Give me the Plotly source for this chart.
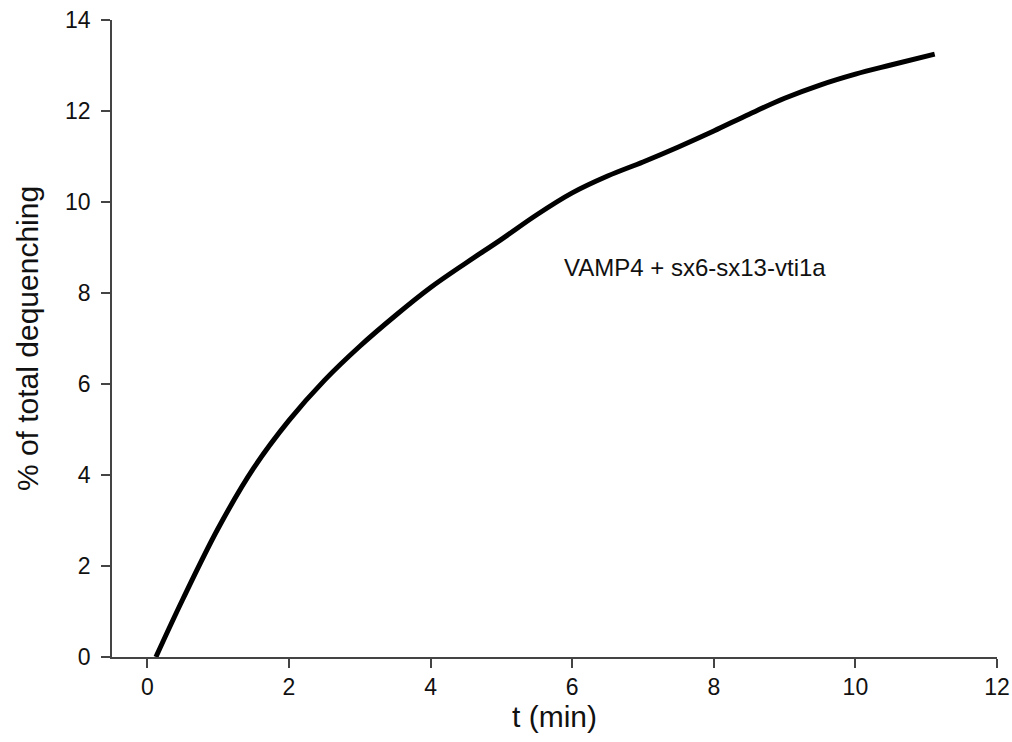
import plotly.graph_objects as go

t_min = [0.12, 0.5, 1.0, 1.5, 2.0, 2.5, 3.0, 3.5, 4.0, 4.5, 5.0, 5.5, 6.0, 6.5, 7.0,
         7.5, 8.0, 8.5, 9.0, 9.5, 10.0, 10.5, 11.12]
dequench = [0.0, 1.27, 2.83, 4.15, 5.20, 6.08, 6.83, 7.50, 8.12, 8.66, 9.18, 9.72, 10.20,
            10.57, 10.88, 11.21, 11.56, 11.93, 12.28, 12.57, 12.81, 13.01, 13.25]

x_ticks = [0, 2, 4, 6, 8, 10, 12]
y_ticks = [0, 2, 4, 6, 8, 10, 12, 14]
label_text = "VAMP4 + sx6-sx13-vti1a"

FONT = "Liberation Sans, Arial, sans-serif"

fig = go.Figure()
fig.add_trace(go.Scatter(x=t_min, y=dequench, mode="lines",
                         line=dict(color="black", width=5, shape="spline", smoothing=1.0),
                         showlegend=False, hoverinfo="skip"))

fig.add_annotation(x=7.74, y=8.57, text=label_text, showarrow=False,
                   font=dict(family=FONT, size=24, color="#111"))

axis_common = dict(showline=True, linecolor="#444", linewidth=1.5, ticks="outside",
                   ticklen=9, tickwidth=1.5, tickcolor="#444", showgrid=False, zeroline=False,
                   automargin=False,
                   tickfont=dict(family=FONT, size=23, color="#111"))

fig.update_xaxes(range=[-0.5, 12], tickvals=x_ticks,
                 title=dict(text="t (min)", font=dict(family=FONT, size=30, color="#111"), standoff=4),
                 **axis_common)
fig.update_yaxes(range=[0, 14], tickvals=y_ticks,
                 title=dict(text="% of total dequenching", font=dict(family=FONT, size=30, color="#111"), standoff=18),
                 ticklabelstandoff=6,
                 **axis_common)

fig.update_layout(width=1012, height=742, plot_bgcolor="white", paper_bgcolor="white",
                  margin=dict(l=112, r=15, t=20, b=85, autoexpand=False))

fig.write_html("out.html", config={"displayModeBar": False},
               post_script="document.body.style.margin='0';")
